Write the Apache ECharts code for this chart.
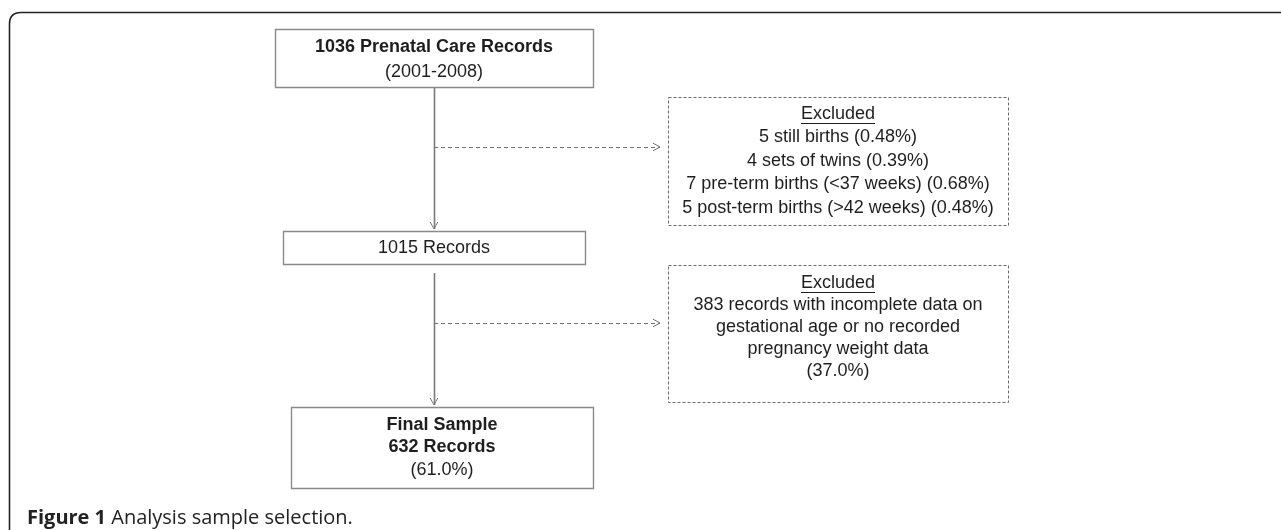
<!DOCTYPE html>
<html>
<head>
<meta charset="utf-8">
<title>Analysis sample selection</title>
<script src="https://cdn.jsdelivr.net/npm/echarts@6/dist/echarts.min.js"></script>
<style>
  html, body { margin: 0; padding: 0; background: #fff; }
  #chart { width: 1281px; height: 530px; }
</style>
</head>
<body>
<div id="chart"></div>
<script>
// ---- data ----
const totalRecords = 1036;
const afterExclusion = 1015;
const finalSample = 632;
const studyYears = '2001-2008';

const exclusionLabels = ['still births', 'sets of twins', 'pre-term births (<37 weeks)', 'post-term births (>42 weeks)'];
const exclusionCounts = [5, 4, 7, 5];
const exclusionPercents = ['0.48%', '0.39%', '0.68%', '0.48%'];

const missingCount = 383;
const missingPercent = '37.0%';
const finalPercent = '61.0%';

// text lines per box: [text, bold, underline]
const boxLines = [
  [[totalRecords + ' Prenatal Care Records', true], ['(' + studyYears + ')', false]],
  [[afterExclusion + ' Records', false]],
  [['Final Sample', true], [finalSample + ' Records', true], ['(' + finalPercent + ')', false]],
  [['Excluded', false, true]].concat(exclusionLabels.map((l, i) =>
    [exclusionCounts[i] + ' ' + l + ' (' + exclusionPercents[i] + ')', false])),
  [['Excluded', false, true],
   [missingCount + ' records with incomplete data on', false],
   ['gestational age or no recorded', false],
   ['pregnancy weight data', false],
   ['(' + missingPercent + ')', false]]
];

// ---- layout (page coordinates on a hidden value grid) ----
// [x0, y0, x1, y1, firstLineY, lineStep, dashed]
const boxLayout = [
  [275, 29, 593, 87, 47, 25, 0],
  [283, 231, 585, 264, 248, 0, 0],
  [291, 407, 593, 488, 425, 22.5, 0],
  [668, 97, 1008, 225, 114, 23.5, 1],
  [668, 265, 1008, 402, 283, 22, 1]
];
// [x0, y0, x1, y1, dashed]
const arrowLayout = [
  [434, 87, 434, 229, 0],
  [434, 147, 660, 147, 1],
  [434, 273, 434, 405, 0],
  [434, 323, 660, 323, 1]
];

const FONT_FAMILY = '"Liberation Sans", Arial, sans-serif';
const FONT_SIZE = 18;

const measureCtx = document.createElement('canvas').getContext('2d');
function textWidth(text, bold) {
  measureCtx.font = (bold ? 'bold ' : '') + FONT_SIZE + 'px ' + FONT_FAMILY;
  return measureCtx.measureText(text).width;
}

function renderBox(params, api) {
  const idx = params.dataIndex;
  const p0 = api.coord([api.value(0), api.value(1)]);
  const p1 = api.coord([api.value(2), api.value(3)]);
  const dashed = api.value(6) === 1;
  const cx = (p0[0] + p1[0]) / 2;
  const children = [{
    type: 'rect',
    shape: { x: Math.round(p0[0]) + 0.5, y: Math.round(p0[1]) + 0.5, width: Math.round(p1[0] - p0[0]), height: Math.round(p1[1] - p0[1]) },
    style: { fill: '#fff', stroke: dashed ? '#6a6a6a' : '#8a8a8a', lineWidth: dashed ? 1 : 1.4, lineDash: dashed ? [3, 2] : null }
  }];
  boxLines[idx].forEach((line, i) => {
    const y = api.coord([0, api.value(4) + i * api.value(5)])[1];
    children.push({
      type: 'text',
      style: {
        text: line[0], x: cx, y: y, align: 'center', verticalAlign: 'middle',
        font: (line[1] ? 'bold ' : '') + FONT_SIZE + 'px ' + FONT_FAMILY,
        fill: '#1e1e1e'
      }
    });
    if (line[2]) {
      const w = textWidth(line[0], line[1]);
      children.push({
        type: 'line',
        shape: { x1: cx - w / 2, y1: Math.round(y + 9) + 0.5, x2: cx + w / 2, y2: Math.round(y + 9) + 0.5 },
        style: { stroke: '#1e1e1e', lineWidth: 1 }
      });
    }
  });
  return { type: 'group', children: children };
}

function renderArrow(params, api) {
  const a = api.coord([api.value(0), api.value(1)]);
  const b = api.coord([api.value(2), api.value(3)]);
  const dashed = api.value(4) === 1;
  const ang = Math.atan2(b[1] - a[1], b[0] - a[0]);
  const len = 8, spread = 0.5;
  const h1 = [b[0] - len * Math.cos(ang - spread), b[1] - len * Math.sin(ang - spread)];
  const h2 = [b[0] - len * Math.cos(ang + spread), b[1] - len * Math.sin(ang + spread)];
  const off = v => Math.round(v) + 0.5;
  const color = dashed ? '#707070' : '#7a7a7a';
  return {
    type: 'group',
    children: [{
      type: 'line',
      shape: { x1: dashed ? a[0] : off(a[0]), y1: dashed ? off(a[1]) : a[1], x2: dashed ? b[0] : off(b[0]), y2: dashed ? off(b[1]) : b[1] },
      style: { stroke: color, lineWidth: dashed ? 1 : 1.6, lineDash: dashed ? [4, 3] : null }
    }, {
      type: 'polyline',
      shape: { points: [h1, b, h2] },
      style: { stroke: color, lineWidth: 1, fill: null }
    }]
  };
}

function renderFrame(params, api) {
  const tl = api.coord([9, 12]);
  const br = api.coord([1281, 530]);
  const r = 12;
  return {
    type: 'path',
    shape: {
      pathData: 'M' + (tl[0] + 0.5) + ' ' + br[1] +
        ' L' + (tl[0] + 0.5) + ' ' + (tl[1] + r) +
        ' Q' + (tl[0] + 0.5) + ' ' + (tl[1] + 0.5) + ' ' + (tl[0] + r) + ' ' + (tl[1] + 0.5) +
        ' L' + br[0] + ' ' + (tl[1] + 0.5)
    },
    style: { stroke: '#222', lineWidth: 1.6, fill: null }
  };
}

const chart = echarts.init(document.getElementById('chart'), null, { renderer: 'canvas' });

chart.setOption({
  animation: false,
  backgroundColor: '#fff',
  grid: { left: 0, right: 0, top: 0, bottom: 0 },
  xAxis: { type: 'value', min: 0, max: 1281, show: false },
  yAxis: { type: 'value', min: 0, max: 530, inverse: true, show: false },
  title: {
    text: '{b|Figure 1} Analysis sample selection.',
    left: 22,
    top: 503,
    textStyle: {
      fontFamily: '"Open Sans", sans-serif',
      fontSize: 20,
      fontWeight: 'normal',
      color: '#222',
      rich: {
        b: { fontFamily: '"Open Sans", sans-serif', fontSize: 20, fontWeight: 'bold', color: '#222' }
      }
    }
  },
  series: [
    { type: 'custom', renderItem: renderFrame, data: [[0, 0]], silent: true, z: 1 },
    { type: 'custom', renderItem: renderArrow, data: arrowLayout, silent: true, z: 2 },
    { type: 'custom', renderItem: renderBox, data: boxLayout, silent: true, z: 3 }
  ]
});
</script>
</body>
</html>
